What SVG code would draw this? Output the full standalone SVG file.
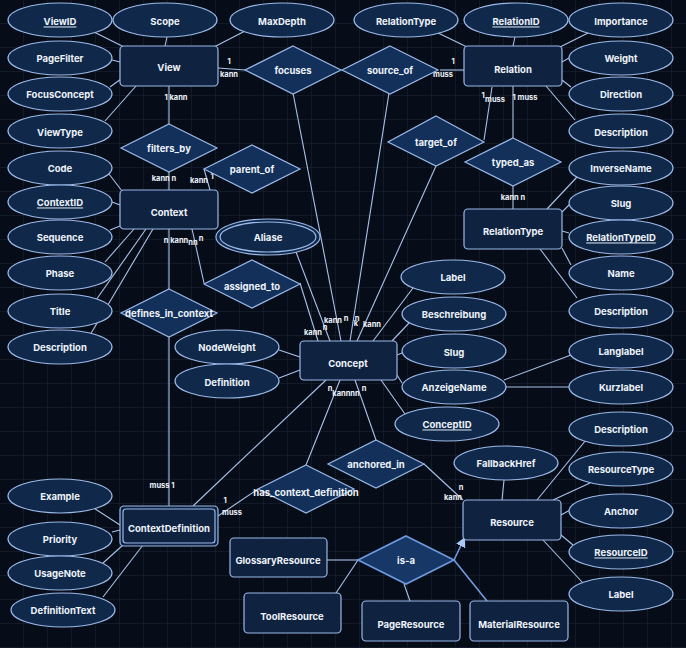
<svg xmlns="http://www.w3.org/2000/svg" width="686" height="648" viewBox="0 0 686 648">
<style>
.e rect{fill:#0f2240;stroke:#9ab8e8;stroke-width:1.2}
.a ellipse{fill:#10284a;stroke:#9ab8e8;stroke-width:1.2}
.r polygon{fill:#12305a;stroke:#9ab8e8;stroke-width:1.2}
text{font-family:Inter,"Liberation Sans",sans-serif;font-weight:bold;font-size:9.5px;fill:#eef3fb;text-anchor:middle;dominant-baseline:central}
.c line{stroke:#a9c2ea;stroke-width:1.1}
.l text{font-size:7.5px;font-weight:bold}
.u{text-decoration:underline}
</style>
<defs>
<pattern id="g" width="24" height="24" patternUnits="userSpaceOnUse"><path d="M24 0V24H0" fill="none" stroke="#1b2538" stroke-width="1"/></pattern>
<marker id="ar" markerWidth="12" markerHeight="12" refX="10" refY="5" orient="auto" markerUnits="userSpaceOnUse"><path d="M0,0L10,5L0,10z" fill="#a9c8f5"/></marker>
</defs>
<rect width="686" height="648" fill="#070d18"/>
<rect width="686" height="648" fill="url(#g)"/>
<g class="c" id="connectors">
<line x1="90" y1="30" x2="124" y2="47"/><line x1="167" y1="37" x2="165" y2="46"/><line x1="247" y1="30" x2="214" y2="47"/>
<line x1="112" y1="60" x2="120" y2="62"/><line x1="110" y1="87" x2="121" y2="79"/><line x1="105" y1="121" x2="136" y2="86"/>
<line x1="109" y1="174" x2="122" y2="191"/><line x1="112" y1="202" x2="120" y2="205"/><line x1="110" y1="230" x2="120" y2="226"/>
<line x1="105" y1="262" x2="134" y2="229"/><line x1="96" y1="300" x2="146" y2="229"/><line x1="90" y1="335" x2="153" y2="229"/>
<line x1="218" y1="68" x2="245" y2="70"/><line x1="293" y1="93" x2="341" y2="341"/>
<line x1="440" y1="70" x2="464" y2="70"/><line x1="389" y1="93" x2="350" y2="341"/>
<line x1="484" y1="140" x2="492" y2="87"/><line x1="436" y1="166" x2="357" y2="341"/>
<line x1="513" y1="86" x2="513" y2="138"/><line x1="513" y1="186" x2="513" y2="209"/>
<line x1="432" y1="30" x2="467" y2="47"/><line x1="515" y1="37" x2="513" y2="46"/><line x1="594" y1="30" x2="560" y2="47"/>
<line x1="569" y1="58" x2="562" y2="62"/><line x1="571" y1="87" x2="562" y2="80"/><line x1="575" y1="120" x2="546" y2="86"/>
<line x1="577" y1="177" x2="547" y2="209"/><line x1="569" y1="205" x2="562" y2="212"/><line x1="569" y1="233" x2="562" y2="231"/>
<line x1="571" y1="265" x2="562" y2="248"/><line x1="577" y1="298" x2="540" y2="249"/>
<line x1="169" y1="86" x2="169" y2="124"/><line x1="169" y1="172" x2="169" y2="190"/>
<line x1="204" y1="169" x2="210" y2="190"/>
<line x1="169" y1="229" x2="169" y2="289"/><line x1="169" y1="337" x2="169" y2="506"/>
<line x1="192" y1="229" x2="204" y2="283"/><line x1="300" y1="283" x2="318" y2="341"/>
<line x1="296" y1="252" x2="330" y2="341"/>
<line x1="413" y1="288" x2="373" y2="341"/><line x1="409" y1="323" x2="392" y2="341"/><line x1="402" y1="353" x2="397" y2="355"/>
<line x1="402" y1="383" x2="397" y2="375"/><line x1="405" y1="414" x2="381" y2="380"/>
<line x1="504" y1="380" x2="571" y2="355"/><line x1="506" y1="387" x2="569" y2="387"/>
<line x1="279" y1="350" x2="300" y2="357"/><line x1="279" y1="378" x2="300" y2="370"/>
<line x1="326" y1="380" x2="193" y2="506"/><line x1="340" y1="380" x2="306" y2="465"/>
<line x1="258" y1="489" x2="218" y2="516"/>
<line x1="355" y1="380" x2="376" y2="440"/><line x1="424" y1="464" x2="463" y2="500"/>
<line x1="504" y1="480" x2="502" y2="500"/><line x1="586" y1="440" x2="537" y2="500"/><line x1="590" y1="483" x2="553" y2="500"/>
<line x1="570" y1="510" x2="561" y2="515"/><line x1="573" y1="545" x2="561" y2="535"/><line x1="583" y1="583" x2="543" y2="540"/>
<line x1="86" y1="503" x2="120" y2="525"/><line x1="112" y1="532" x2="120" y2="530"/><line x1="103" y1="563" x2="123" y2="545"/><line x1="103" y1="597" x2="143" y2="545"/>
<line x1="327" y1="560" x2="358" y2="560"/><line x1="336" y1="593" x2="358" y2="560"/><line x1="410" y1="601" x2="404" y2="584"/>
<line x1="487" y1="601" x2="454" y2="560" style="stroke:#6f9be0;stroke-width:1.6"/>
<line x1="454" y1="560" x2="465" y2="537" marker-end="url(#ar)" style="stroke:#6f9be0;stroke-width:1.6"/>
</g>
<g class="l">
<text x="229" y="61">1</text><text x="229" y="74">kann</text>
<text x="453" y="61">1</text><text x="443" y="74">muss</text>
<text x="483" y="95">1</text><text x="495" y="99">muss</text><text x="525" y="97">1 muss</text>
<text x="513" y="197">kann n</text>
<text x="176" y="97">1 kann</text><text x="164" y="178">kann n</text><text x="199" y="180">kann</text><text x="212" y="176">1</text>
<text x="176" y="240">n kann</text><text x="193" y="242">nn</text><text x="201" y="238">n</text>
<text x="162" y="485">muss 1</text>
<text x="313" y="332">kann</text><text x="333" y="320">kann</text><text x="325" y="327">n</text><text x="346" y="318">n</text><text x="356" y="323">k</text><text x="357" y="318">n</text><text x="372" y="324">kann</text>
<text x="330" y="388">n</text><text x="346" y="393">kannnn</text><text x="364" y="388">n</text>
<text x="225" y="500">1</text><text x="232" y="512">muss</text>
<text x="461" y="487">n</text><text x="453" y="497">kann</text>
</g>
<g class="e">
<g id="View"><rect x="120" y="46" width="98" height="40" rx="4"/><text x="169" y="67">View</text></g>
<g id="Context"><rect x="120" y="190" width="98" height="39" rx="4"/><text x="169" y="212">Context</text></g>
<g id="Relation"><rect x="464" y="46" width="98" height="40" rx="4"/><text x="513" y="69">Relation</text></g>
<g id="RelationType"><rect x="464" y="209" width="98" height="40" rx="4"/><text x="513" y="231">RelationType</text></g>
<g id="Concept"><rect x="300" y="341" width="97" height="39" rx="4"/><text x="348" y="363">Concept</text></g>
<g id="ContextDefinition"><rect x="120" y="506" width="98" height="40" rx="4"/><rect x="123" y="509" width="92" height="34" rx="3"/><text x="169" y="528">ContextDefinition</text></g>
<g id="Resource"><rect x="463" y="500" width="98" height="40" rx="4"/><text x="512" y="522">Resource</text></g>
<g id="GlossaryResource"><rect x="230" y="538" width="97" height="39" rx="4"/><text x="278" y="560">GlossaryResource</text></g>
<g id="ToolResource"><rect x="244" y="593" width="97" height="40" rx="4"/><text x="292" y="616">ToolResource</text></g>
<g id="PageResource"><rect x="362" y="601" width="98" height="40" rx="4"/><text x="411" y="624">PageResource</text></g>
<g id="MaterialResource"><rect x="470" y="601" width="98" height="40" rx="4"/><text x="519" y="624">MaterialResource</text></g>
</g>
<g class="r">
<g id="focuses"><polygon points="293,46 341,70 293,94 245,70"/><text x="293" y="70">focuses</text></g>
<g id="source_of"><polygon points="390,46 438,70 390,94 342,70"/><text x="390" y="70">source_of</text></g>
<g id="filters_by"><polygon points="169,124 217,148 169,172 121,148"/><text x="169" y="148">filters_by</text></g>
<g id="parent_of"><polygon points="252,145 300,169 252,193 204,169"/><text x="252" y="169">parent_of</text></g>
<g id="target_of"><polygon points="436,116 484,142 436,166 388,142"/><text x="436" y="142">target_of</text></g>
<g id="typed_as"><polygon points="513,138 561,162 513,186 465,162"/><text x="513" y="162">typed_as</text></g>
<g id="assigned_to"><polygon points="252,260 300,284 252,308 204,284"/><text x="252" y="286">assigned_to</text></g>
<g id="defines_in_context"><polygon points="169,289 217,313 169,337 121,313"/><text x="169" y="313">defines_in_context</text></g>
<g id="anchored_in"><polygon points="376,440 424,464 376,488 328,464"/><text x="376" y="464">anchored_in</text></g>
<g id="has_context_definition"><polygon points="306,465 354,489 306,513 258,489"/><text x="306" y="492">has_context_definition</text></g>
<g id="is-a"><polygon points="406,536 454,560 406,584 358,560" style="fill:#173766;stroke:#6f9be0;stroke-width:1.6"/><text x="406" y="560">is-a</text></g>
</g>
<g class="a">
<g id="a_ViewID"><ellipse cx="60" cy="20" rx="52" ry="17"/><text x="60" y="21" class="u">ViewID</text></g>
<g id="a_Scope"><ellipse cx="165" cy="20" rx="52" ry="17"/><text x="165" y="21">Scope</text></g>
<g id="a_MaxDepth"><ellipse cx="282" cy="20" rx="52" ry="17"/><text x="282" y="21">MaxDepth</text></g>
<g id="a_PageFilter"><ellipse cx="60" cy="58" rx="52" ry="17"/><text x="60" y="58">PageFilter</text></g>
<g id="a_FocusConcept"><ellipse cx="60" cy="94" rx="52" ry="17"/><text x="60" y="94">FocusConcept</text></g>
<g id="a_ViewType"><ellipse cx="60" cy="131" rx="52" ry="17"/><text x="60" y="132">ViewType</text></g>
<g id="a_Code"><ellipse cx="60" cy="168" rx="52" ry="17"/><text x="60" y="168">Code</text></g>
<g id="a_ContextID"><ellipse cx="60" cy="202" rx="52" ry="17"/><text x="60" y="202" class="u">ContextID</text></g>
<g id="a_Sequence"><ellipse cx="60" cy="237" rx="52" ry="17"/><text x="60" y="237">Sequence</text></g>
<g id="a_Phase"><ellipse cx="60" cy="273" rx="52" ry="17"/><text x="60" y="273">Phase</text></g>
<g id="a_Title"><ellipse cx="60" cy="311" rx="52" ry="17"/><text x="60" y="311">Title</text></g>
<g id="a_CtxDescription"><ellipse cx="60" cy="347" rx="52" ry="17"/><text x="60" y="347">Description</text></g>
<g id="a_RelationTypeAttr"><ellipse cx="406" cy="20" rx="52" ry="17"/><text x="406" y="21">RelationType</text></g>
<g id="a_RelationID"><ellipse cx="516" cy="20" rx="52" ry="17"/><text x="516" y="21" class="u">RelationID</text></g>
<g id="a_Importance"><ellipse cx="621" cy="20" rx="52" ry="17"/><text x="621" y="21">Importance</text></g>
<g id="a_Weight"><ellipse cx="621" cy="58" rx="52" ry="17"/><text x="621" y="58">Weight</text></g>
<g id="a_Direction"><ellipse cx="621" cy="94" rx="52" ry="17"/><text x="621" y="94">Direction</text></g>
<g id="a_RelDescription"><ellipse cx="621" cy="131" rx="52" ry="17"/><text x="621" y="132">Description</text></g>
<g id="a_InverseName"><ellipse cx="621" cy="168" rx="52" ry="17"/><text x="621" y="168">InverseName</text></g>
<g id="a_RTSlug"><ellipse cx="621" cy="203" rx="52" ry="17"/><text x="621" y="203">Slug</text></g>
<g id="a_RelationTypeID"><ellipse cx="621" cy="237" rx="52" ry="17"/><text x="621" y="237" class="u">RelationTypeID</text></g>
<g id="a_Name"><ellipse cx="621" cy="273" rx="52" ry="17"/><text x="621" y="273">Name</text></g>
<g id="a_RTDescription"><ellipse cx="621" cy="311" rx="52" ry="17"/><text x="621" y="311">Description</text></g>
<g id="a_Langlabel"><ellipse cx="621" cy="351" rx="52" ry="17"/><text x="621" y="351">Langlabel</text></g>
<g id="a_Kurzlabel"><ellipse cx="621" cy="387" rx="52" ry="17"/><text x="621" y="387">Kurzlabel</text></g>
<g id="a_Aliase"><ellipse cx="268" cy="237" rx="52" ry="18"/><ellipse cx="268" cy="237" rx="48" ry="15"/><text x="268" y="237">Aliase</text></g>
<g id="a_Label"><ellipse cx="453" cy="277" rx="52" ry="17"/><text x="453" y="277">Label</text></g>
<g id="a_Beschreibung"><ellipse cx="454" cy="314" rx="52" ry="17"/><text x="454" y="314">Beschreibung</text></g>
<g id="a_Slug"><ellipse cx="454" cy="351" rx="52" ry="17"/><text x="454" y="352">Slug</text></g>
<g id="a_AnzeigeName"><ellipse cx="454" cy="387" rx="52" ry="17"/><text x="454" y="387">AnzeigeName</text></g>
<g id="a_ConceptID"><ellipse cx="447" cy="424" rx="52" ry="17"/><text x="447" y="424" class="u">ConceptID</text></g>
<g id="a_NodeWeight"><ellipse cx="227" cy="347" rx="52" ry="17"/><text x="227" y="347">NodeWeight</text></g>
<g id="a_Definition"><ellipse cx="227" cy="381" rx="52" ry="17"/><text x="227" y="382">Definition</text></g>
<g id="a_FallbackHref"><ellipse cx="506" cy="463" rx="52" ry="17"/><text x="506" y="463">FallbackHref</text></g>
<g id="a_ResDescription"><ellipse cx="621" cy="429" rx="52" ry="17"/><text x="621" y="429">Description</text></g>
<g id="a_ResourceType"><ellipse cx="621" cy="469" rx="52" ry="17"/><text x="621" y="469">ResourceType</text></g>
<g id="a_Anchor"><ellipse cx="621" cy="511" rx="52" ry="17"/><text x="621" y="511">Anchor</text></g>
<g id="a_ResourceID"><ellipse cx="621" cy="552" rx="52" ry="17"/><text x="621" y="552" class="u">ResourceID</text></g>
<g id="a_ResLabel"><ellipse cx="621" cy="594" rx="52" ry="17"/><text x="621" y="594">Label</text></g>
<g id="a_Example"><ellipse cx="60" cy="496" rx="52" ry="17"/><text x="60" y="496">Example</text></g>
<g id="a_Priority"><ellipse cx="60" cy="539" rx="52" ry="17"/><text x="60" y="539">Priority</text></g>
<g id="a_UsageNote"><ellipse cx="60" cy="573" rx="52" ry="17"/><text x="60" y="573">UsageNote</text></g>
<g id="a_DefinitionText"><ellipse cx="63" cy="610" rx="52" ry="17"/><text x="63" y="610">DefinitionText</text></g>
</g>
</svg>
